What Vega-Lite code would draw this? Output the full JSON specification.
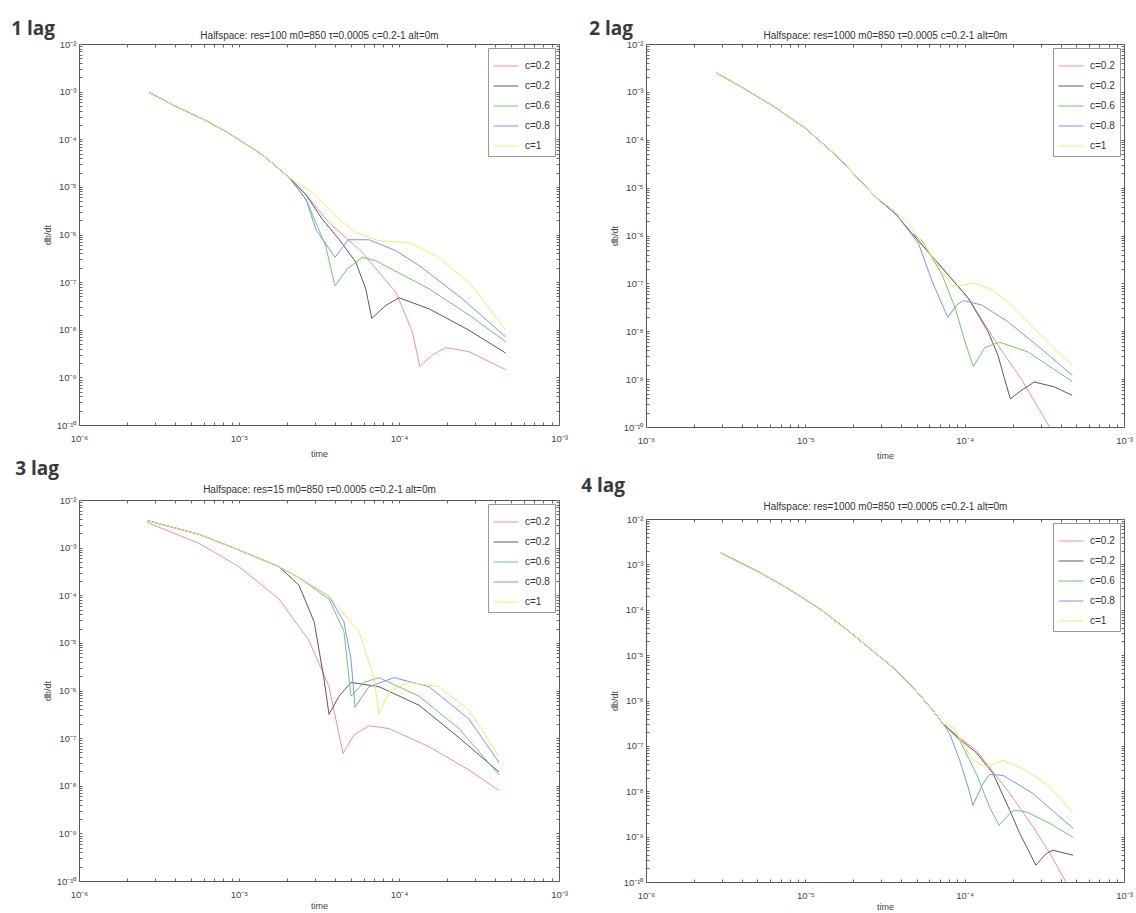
{
"$schema": "https://vega.github.io/schema/vega-lite/v6.json",
"padding": {"left": 10, "top": 19, "right": 2, "bottom": 2},
"config": {
  "font": "Liberation Sans",
  "view": {"stroke": "#555", "strokeWidth": 1},
  "axis": {"grid": false, "domain": false, "tickColor": "#666", "tickSize": -3, "labelFontSize": 9.5, "labelColor": "#444", "titleFontSize": 9, "titleFontWeight": "normal", "titleColor": "#444", "labelPadding": 6, "labelOverlap": false, "labelFlush": false, "titlePadding": 4},
  "axisBottom": {"labelPadding": 11, "titlePadding": 7},
  "title": {"font": "Open Sans", "fontSize": 19, "fontWeight": "bold", "color": "#3a3a3a", "anchor": "start"},
  "legend": {"orient": "top-right", "offset": 4, "symbolType": "stroke", "symbolSize": 625, "symbolStrokeWidth": 1, "labelFontSize": 10, "labelColor": "#333", "strokeColor": "#999", "fillColor": "white", "padding": 5, "rowPadding": 2, "labelOffset": 6, "labelFont": "Liberation Sans"}
},
"datasets": {
"p1": [
{"s":"1","t":2.754e-6,"v":9.55e-4},{"s":"1","t":3.981e-6,"v":5.01e-4},{"s":"1","t":6.31e-6,"v":2.4e-4},{"s":"1","t":8.66e-6,"v":1.334e-4},{"s":"1","t":1.393e-5,"v":4.79e-5},{"s":"1","t":2.054e-5,"v":1.585e-5},
{"s":"1","t":2.63e-5,"v":6.761e-6},{"s":"1","t":3.652e-5,"v":1.778e-6},{"s":"1","t":5.888e-5,"v":4.217e-7},{"s":"1","t":9.55e-5,"v":6.166e-8},{"s":"1","t":1.211e-4,"v":9.12e-9},{"s":"1","t":1.349e-4,"v":1.698e-9},{"s":"1","t":1.622e-4,"v":2.951e-9},{"s":"1","t":1.95e-4,"v":4.217e-9},{"s":"1","t":2.738e-4,"v":3.467e-9},{"s":"1","t":4.645e-4,"v":1.445e-9},
{"s":"2","t":2.754e-6,"v":9.55e-4},{"s":"2","t":3.981e-6,"v":5.01e-4},{"s":"2","t":6.31e-6,"v":2.4e-4},{"s":"2","t":8.66e-6,"v":1.334e-4},{"s":"2","t":1.393e-5,"v":4.79e-5},{"s":"2","t":2.054e-5,"v":1.585e-5},
{"s":"2","t":2.63e-5,"v":6.761e-6},{"s":"2","t":3.319e-5,"v":2.089e-6},{"s":"2","t":4.217e-5,"v":7.943e-7},{"s":"2","t":5.37e-5,"v":2.63e-7},{"s":"2","t":6.194e-5,"v":7.244e-8},{"s":"2","t":6.761e-5,"v":1.738e-8},{"s":"2","t":8.26e-5,"v":3.236e-8},{"s":"2","t":1e-4,"v":4.677e-8},{"s":"2","t":1.54e-4,"v":2.754e-8},{"s":"2","t":2.738e-4,"v":9.77e-9},{"s":"2","t":4.645e-4,"v":3.236e-9},
{"s":"3","t":2.754e-6,"v":9.55e-4},{"s":"3","t":3.981e-6,"v":5.01e-4},{"s":"3","t":6.31e-6,"v":2.4e-4},{"s":"3","t":8.66e-6,"v":1.334e-4},{"s":"3","t":1.393e-5,"v":4.79e-5},{"s":"3","t":2.054e-5,"v":1.585e-5},
{"s":"3","t":2.63e-5,"v":5.37e-6},{"s":"3","t":3.483e-5,"v":5.754e-7},{"s":"3","t":3.981e-5,"v":8.318e-8},{"s":"3","t":4.753e-5,"v":1.905e-7},{"s":"3","t":5.888e-5,"v":3.311e-7},{"s":"3","t":7.145e-5,"v":2.818e-7},{"s":"3","t":1.54e-4,"v":7.244e-8},{"s":"3","t":2.738e-4,"v":2.042e-8},{"s":"3","t":4.645e-4,"v":5.623e-9},
{"s":"4","t":2.754e-6,"v":9.55e-4},{"s":"4","t":3.981e-6,"v":5.01e-4},{"s":"4","t":6.31e-6,"v":2.4e-4},{"s":"4","t":8.66e-6,"v":1.334e-4},{"s":"4","t":1.393e-5,"v":4.79e-5},{"s":"4","t":2.054e-5,"v":1.585e-5},
{"s":"4","t":2.63e-5,"v":5.37e-6},{"s":"4","t":3.027e-5,"v":1.271e-6},{"s":"4","t":3.981e-5,"v":3.311e-7},{"s":"4","t":4.819e-5,"v":7.76e-7},{"s":"4","t":6.494e-5,"v":7.76e-7},{"s":"4","t":9.55e-5,"v":4.571e-7},{"s":"4","t":1.334e-4,"v":2.239e-7},{"s":"4","t":2.489e-4,"v":4.467e-8},{"s":"4","t":4.645e-4,"v":7.08e-9},
{"s":"5","t":2.754e-6,"v":9.55e-4},{"s":"5","t":3.981e-6,"v":5.01e-4},{"s":"5","t":6.31e-6,"v":2.4e-4},{"s":"5","t":8.66e-6,"v":1.334e-4},{"s":"5","t":1.393e-5,"v":4.79e-5},{"s":"5","t":2.054e-5,"v":1.585e-5},
{"s":"5","t":2.871e-5,"v":7.5e-6},{"s":"5","t":4.217e-5,"v":2.089e-6},{"s":"5","t":5.37e-5,"v":1.096e-6},{"s":"5","t":7.5e-5,"v":7.41e-7},{"s":"5","t":1.155e-4,"v":6.76e-7},{"s":"5","t":1.698e-4,"v":3.63e-7},{"s":"5","t":2.738e-4,"v":1e-7},{"s":"5","t":4.645e-4,"v":1e-8}
],
"p2": [
{"s":"1","t":2.754e-6,"v":2.512e-3},{"s":"1","t":3.981e-6,"v":1.259e-3},{"s":"1","t":6.31e-6,"v":5.012e-4},{"s":"1","t":1e-5,"v":1.738e-4},{"s":"1","t":1.585e-5,"v":4.467e-5},{"s":"1","t":2.773e-5,"v":6.31e-6},{"s":"1","t":3.69e-5,"v":2.818e-6},
{"s":"1","t":4.467e-5,"v":1.318e-6},{"s":"1","t":7.194e-5,"v":2.138e-7},{"s":"1","t":1.054e-4,"v":4.898e-8},{"s":"1","t":1.618e-4,"v":5.129e-9},{"s":"1","t":2.259e-4,"v":1.023e-9},{"s":"1","t":3.006e-4,"v":2.042e-10},{"s":"1","t":3.467e-4,"v":9.12e-11},{"s":"1","t":3.981e-4,"v":3.467e-11},
{"s":"2","t":2.754e-6,"v":2.512e-3},{"s":"2","t":3.981e-6,"v":1.259e-3},{"s":"2","t":6.31e-6,"v":5.012e-4},{"s":"2","t":1e-5,"v":1.738e-4},{"s":"2","t":1.585e-5,"v":4.467e-5},{"s":"2","t":2.773e-5,"v":6.31e-6},{"s":"2","t":3.69e-5,"v":2.818e-6},
{"s":"2","t":4.467e-5,"v":1.318e-6},{"s":"2","t":7.194e-5,"v":2.138e-7},{"s":"2","t":1.054e-4,"v":4.898e-8},{"s":"2","t":1.403e-4,"v":9.772e-9},{"s":"2","t":1.618e-4,"v":3.162e-9},{"s":"2","t":1.778e-4,"v":1.023e-9},{"s":"2","t":1.936e-4,"v":3.89e-10},{"s":"2","t":2.259e-4,"v":5.754e-10},{"s":"2","t":2.735e-4,"v":8.71e-10},{"s":"2","t":3.639e-4,"v":6.918e-10},{"s":"2","t":4.732e-4,"v":4.571e-10},
{"s":"3","t":2.754e-6,"v":2.512e-3},{"s":"3","t":3.981e-6,"v":1.259e-3},{"s":"3","t":6.31e-6,"v":5.012e-4},{"s":"3","t":1e-5,"v":1.738e-4},{"s":"3","t":1.585e-5,"v":4.467e-5},{"s":"3","t":2.773e-5,"v":6.31e-6},{"s":"3","t":3.69e-5,"v":2.818e-6},
{"s":"3","t":4.467e-5,"v":1.259e-6},{"s":"3","t":5.408e-5,"v":7.762e-7},{"s":"3","t":7.194e-5,"v":1.549e-7},{"s":"3","t":8.71e-5,"v":3.09e-8},{"s":"3","t":1.005e-4,"v":6.026e-9},{"s":"3","t":1.132e-4,"v":1.82e-9},{"s":"3","t":1.337e-4,"v":4.571e-9},{"s":"3","t":1.656e-4,"v":5.888e-9},{"s":"3","t":2.489e-4,"v":3.715e-9},{"s":"3","t":4.732e-4,"v":8.913e-10},
{"s":"4","t":2.754e-6,"v":2.512e-3},{"s":"4","t":3.981e-6,"v":1.259e-3},{"s":"4","t":6.31e-6,"v":5.012e-4},{"s":"4","t":1e-5,"v":1.738e-4},{"s":"4","t":1.585e-5,"v":4.467e-5},{"s":"4","t":2.773e-5,"v":6.31e-6},{"s":"4","t":3.69e-5,"v":2.818e-6},
{"s":"4","t":4.467e-5,"v":1.259e-6},{"s":"4","t":5.152e-5,"v":6.607e-7},{"s":"4","t":6.237e-5,"v":1.122e-7},{"s":"4","t":7.834e-5,"v":1.95e-8},{"s":"4","t":8.913e-5,"v":3.548e-8},{"s":"4","t":9.817e-5,"v":4.365e-8},{"s":"4","t":1.276e-4,"v":3.548e-8},{"s":"4","t":1.866e-4,"v":1.585e-8},{"s":"4","t":3.006e-4,"v":4.365e-9},{"s":"4","t":4.732e-4,"v":1.202e-9},
{"s":"5","t":2.754e-6,"v":2.512e-3},{"s":"5","t":3.981e-6,"v":1.259e-3},{"s":"5","t":6.31e-6,"v":5.012e-4},{"s":"5","t":1e-5,"v":1.738e-4},{"s":"5","t":1.585e-5,"v":4.467e-5},{"s":"5","t":2.773e-5,"v":6.31e-6},
{"s":"5","t":3.69e-5,"v":3.162e-6},{"s":"5","t":4.467e-5,"v":1.738e-6},{"s":"5","t":6.546e-5,"v":2.951e-7},{"s":"5","t":8.318e-5,"v":8.71e-8},{"s":"5","t":9.572e-5,"v":9.12e-8},{"s":"5","t":1.159e-4,"v":1.023e-7},{"s":"5","t":1.472e-4,"v":7.413e-8},{"s":"5","t":1.959e-4,"v":3.548e-8},{"s":"5","t":3.631e-4,"v":4.365e-9},{"s":"5","t":4.732e-4,"v":1.95e-9}
],
"p3": [
{"s":"1","t":2.661e-6,"v":3.388e-3},{"s":"1","t":5.623e-6,"v":1.23e-3},{"s":"1","t":1e-5,"v":3.981e-4},{"s":"1","t":1.778e-5,"v":8.318e-5},{"s":"1","t":2.738e-5,"v":1.122e-5},{"s":"1","t":3.652e-5,"v":1.202e-6},{"s":"1","t":4.467e-5,"v":4.786e-8},{"s":"1","t":5.248e-5,"v":1.175e-7},{"s":"1","t":6.494e-5,"v":1.82e-7},{"s":"1","t":8.66e-5,"v":1.585e-7},{"s":"1","t":1.54e-4,"v":6.607e-8},{"s":"1","t":2.738e-4,"v":2.138e-8},{"s":"1","t":4.217e-4,"v":7.943e-9},
{"s":"2","t":2.661e-6,"v":3.715e-3},{"s":"2","t":5.623e-6,"v":1.905e-3},{"s":"2","t":1e-5,"v":8.913e-4},{"s":"2","t":1.778e-5,"v":3.981e-4},{"s":"2","t":2.371e-5,"v":1.622e-4},{"s":"2","t":2.951e-5,"v":2.754e-5},{"s":"2","t":3.388e-5,"v":1.862e-6},{"s":"2","t":3.652e-5,"v":3.162e-7},{"s":"2","t":4.217e-5,"v":7.586e-7},{"s":"2","t":5.012e-5,"v":1.479e-6},{"s":"2","t":7.499e-5,"v":1.202e-6},{"s":"2","t":1.334e-4,"v":4.898e-7},{"s":"2","t":2.371e-4,"v":1.023e-7},{"s":"2","t":4.217e-4,"v":1.95e-8},
{"s":"3","t":2.661e-6,"v":3.715e-3},{"s":"3","t":5.623e-6,"v":1.905e-3},{"s":"3","t":1e-5,"v":8.913e-4},{"s":"3","t":1.778e-5,"v":3.981e-4},{"s":"3","t":2.371e-5,"v":2.344e-4},{"s":"3","t":3.652e-5,"v":8.318e-5},{"s":"3","t":4.529e-5,"v":1.738e-5},{"s":"3","t":5.012e-5,"v":7.586e-7},{"s":"3","t":6.026e-5,"v":1.479e-6},{"s":"3","t":7.499e-5,"v":1.862e-6},{"s":"3","t":1.334e-4,"v":7.586e-7},{"s":"3","t":2.371e-4,"v":1.585e-7},{"s":"3","t":4.217e-4,"v":1.698e-8},
{"s":"4","t":2.661e-6,"v":3.715e-3},{"s":"4","t":5.623e-6,"v":1.905e-3},{"s":"4","t":1e-5,"v":8.913e-4},{"s":"4","t":1.778e-5,"v":3.981e-4},{"s":"4","t":2.371e-5,"v":2.344e-4},{"s":"4","t":3.652e-5,"v":9.55e-5},{"s":"4","t":4.529e-5,"v":2.754e-5},{"s":"4","t":5.012e-5,"v":4.571e-6},{"s":"4","t":5.309e-5,"v":4.467e-7},{"s":"4","t":6.494e-5,"v":1.202e-6},{"s":"4","t":9.333e-5,"v":1.862e-6},{"s":"4","t":1.54e-4,"v":1.202e-6},{"s":"4","t":2.738e-4,"v":2.512e-7},{"s":"4","t":4.217e-4,"v":3.09e-8},
{"s":"5","t":2.661e-6,"v":3.715e-3},{"s":"5","t":5.623e-6,"v":1.905e-3},{"s":"5","t":1e-5,"v":8.913e-4},{"s":"5","t":1.778e-5,"v":3.981e-4},{"s":"5","t":2.371e-5,"v":2.344e-4},{"s":"5","t":3.652e-5,"v":9.55e-5},{"s":"5","t":5.623e-5,"v":1.738e-5},{"s":"5","t":6.982e-5,"v":1.862e-6},{"s":"5","t":7.499e-5,"v":3.162e-7},{"s":"5","t":8.66e-5,"v":9.55e-7},{"s":"5","t":1.155e-4,"v":1.479e-6},{"s":"5","t":1.778e-4,"v":1.202e-6},{"s":"5","t":2.738e-4,"v":3.89e-7},{"s":"5","t":4.217e-4,"v":4.169e-8}
],
"p4": [
{"s":"1","t":2.951e-6,"v":1.778e-3},{"s":"1","t":5.012e-6,"v":7.079e-4},{"s":"1","t":7.943e-6,"v":2.818e-4},{"s":"1","t":1.259e-5,"v":1e-4},{"s":"1","t":1.995e-5,"v":2.818e-5},{"s":"1","t":3.54e-5,"v":5.37e-6},{"s":"1","t":4.732e-5,"v":1.95e-6},{"s":"1","t":6.324e-5,"v":6.026e-7},{"s":"1","t":7.311e-5,"v":3.09e-7},
{"s":"1","t":9.311e-5,"v":1.514e-7},{"s":"1","t":1.183e-4,"v":7.943e-8},{"s":"1","t":1.919e-4,"v":8.913e-9},{"s":"1","t":2.685e-4,"v":1.66e-9},{"s":"1","t":3.428e-4,"v":4.266e-10},{"s":"1","t":4.256e-4,"v":1.096e-10},{"s":"1","t":4.677e-4,"v":5.129e-11},
{"s":"2","t":2.951e-6,"v":1.778e-3},{"s":"2","t":5.012e-6,"v":7.079e-4},{"s":"2","t":7.943e-6,"v":2.818e-4},{"s":"2","t":1.259e-5,"v":1e-4},{"s":"2","t":1.995e-5,"v":2.818e-5},{"s":"2","t":3.54e-5,"v":5.37e-6},{"s":"2","t":4.732e-5,"v":1.95e-6},{"s":"2","t":6.324e-5,"v":6.026e-7},{"s":"2","t":7.311e-5,"v":3.09e-7},
{"s":"2","t":9.311e-5,"v":1.413e-7},{"s":"2","t":1.183e-4,"v":7.079e-8},{"s":"2","t":1.507e-4,"v":2.455e-8},{"s":"2","t":1.919e-4,"v":3.802e-9},{"s":"2","t":2.218e-4,"v":1.175e-9},{"s":"2","t":2.799e-4,"v":2.344e-10},{"s":"2","t":3.258e-4,"v":4.266e-10},{"s":"2","t":3.589e-4,"v":5.012e-10},{"s":"2","t":4.797e-4,"v":3.89e-10},
{"s":"3","t":2.951e-6,"v":1.778e-3},{"s":"3","t":5.012e-6,"v":7.079e-4},{"s":"3","t":7.943e-6,"v":2.818e-4},{"s":"3","t":1.259e-5,"v":1e-4},{"s":"3","t":1.995e-5,"v":2.818e-5},{"s":"3","t":3.54e-5,"v":5.37e-6},{"s":"3","t":4.732e-5,"v":1.95e-6},{"s":"3","t":6.324e-5,"v":6.026e-7},{"s":"3","t":7.311e-5,"v":3.09e-7},
{"s":"3","t":9.311e-5,"v":1.318e-7},{"s":"3","t":1.183e-4,"v":2.455e-8},{"s":"3","t":1.435e-4,"v":4.467e-9},{"s":"3","t":1.644e-4,"v":1.778e-9},{"s":"3","t":1.919e-4,"v":3.236e-9},{"s":"3","t":2.061e-4,"v":3.802e-9},{"s":"3","t":2.438e-4,"v":3.508e-9},{"s":"3","t":3.428e-4,"v":1.95e-9},{"s":"3","t":4.797e-4,"v":9.55e-10},
{"s":"4","t":2.951e-6,"v":1.778e-3},{"s":"4","t":5.012e-6,"v":7.079e-4},{"s":"4","t":7.943e-6,"v":2.818e-4},{"s":"4","t":1.259e-5,"v":1e-4},{"s":"4","t":1.995e-5,"v":2.818e-5},{"s":"4","t":3.54e-5,"v":5.37e-6},{"s":"4","t":4.732e-5,"v":1.95e-6},{"s":"4","t":6.324e-5,"v":6.026e-7},{"s":"4","t":7.311e-5,"v":3.09e-7},
{"s":"4","t":8.054e-5,"v":1.862e-7},{"s":"4","t":9.311e-5,"v":4.786e-8},{"s":"4","t":1.05e-4,"v":1.245e-8},{"s":"4","t":1.127e-4,"v":4.898e-9},{"s":"4","t":1.303e-4,"v":1.479e-8},{"s":"4","t":1.435e-4,"v":2.344e-8},{"s":"4","t":1.742e-4,"v":2.239e-8},{"s":"4","t":2.685e-4,"v":8.913e-9},{"s":"4","t":4.797e-4,"v":1.514e-9},
{"s":"5","t":2.951e-6,"v":1.778e-3},{"s":"5","t":5.012e-6,"v":7.079e-4},{"s":"5","t":7.943e-6,"v":2.818e-4},{"s":"5","t":1.259e-5,"v":1e-4},{"s":"5","t":1.995e-5,"v":2.818e-5},{"s":"5","t":3.54e-5,"v":5.37e-6},{"s":"5","t":4.732e-5,"v":1.95e-6},{"s":"5","t":6.324e-5,"v":6.026e-7},{"s":"5","t":7.311e-5,"v":3.09e-7},
{"s":"5","t":8.453e-5,"v":2.57e-7},{"s":"5","t":1.127e-4,"v":4.786e-8},{"s":"5","t":1.368e-4,"v":3.388e-8},{"s":"5","t":1.742e-4,"v":4.786e-8},{"s":"5","t":2.438e-4,"v":2.884e-8},{"s":"5","t":3.428e-4,"v":1.245e-8},{"s":"5","t":4.797e-4,"v":3.236e-9}
]
},
"resolve": {"scale": {"color": "independent"}, "legend": {"color": "independent"}},
"spacing": 12,
"hconcat": [
{
"spacing": 0,
"resolve": {"scale": {"color": "independent"}, "legend": {"color": "independent"}},
"vconcat": [
{
"width": 480, "height": 381,
"title": {"text": "1 lag", "dx": -32, "offset": -8},
"data": {"name": "p1"},
"layer": [
{"mark": {"type": "line", "strokeWidth": 1, "clip": true},
 "encoding": {
  "x": {"field": "t", "type": "quantitative", "scale": {"type": "log", "domain": [1e-6, 1e-3], "nice": false}, "axis": {"orient": "bottom", "title": "time", "tickCount": 10, "labelExpr": "abs(log(datum.value)/LN10 - round(log(datum.value)/LN10)) > 0.01 ? '' : '10' + ['⁻¹⁰','⁻⁹','⁻⁸','⁻⁷','⁻⁶','⁻⁵','⁻⁴','⁻³','⁻²','⁻¹','⁰'][round(log(datum.value)/LN10)+10]"}},
  "y": {"field": "v", "type": "quantitative", "scale": {"type": "log", "domain": [1e-10, 1e-2], "nice": false}, "axis": {"orient": "left", "title": "db/dt", "tickCount": 20, "labelExpr": "abs(log(datum.value)/LN10 - round(log(datum.value)/LN10)) > 0.01 ? '' : '10' + ['⁻¹⁰','⁻⁹','⁻⁸','⁻⁷','⁻⁶','⁻⁵','⁻⁴','⁻³','⁻²','⁻¹','⁰'][round(log(datum.value)/LN10)+10]"}},
  "color": {"field": "s", "type": "nominal", "scale": {"domain": ["1","2","3","4","5"], "range": ["#f0909a","#5a5a5a","#6cc86c","#7896f0","#eeea70"]}, "legend": {"title": null, "labelExpr": "['c=0.2','c=0.2','c=0.6','c=0.8','c=1'][toNumber(datum.label)-1]"}}
 }},
{"mark": {"type": "point", "opacity": 0},
 "encoding": {
  "x": {"field": "t", "type": "quantitative", "scale": {"type": "log", "domain": [1e-6, 1e-3], "nice": false}, "axis": {"orient": "top", "labels": false, "tickCount": 10, "title": "Halfspace: res=100 m0=850 τ=0.0005 c=0.2-1 alt=0m", "titleFontSize": 10, "titleColor": "#333", "titlePadding": 3}},
  "y": {"field": "v", "type": "quantitative", "scale": {"type": "log", "domain": [1e-10, 1e-2], "nice": false}, "axis": {"orient": "right", "labels": false, "tickCount": 20, "title": null}}
 }}
],
"resolve": {"axis": {"x": "independent", "y": "independent"}}
},
{
"width": 480, "height": 381,
"title": {"text": "3 lag", "dx": -28, "offset": 6},
"data": {"name": "p3"},
"layer": [
{"mark": {"type": "line", "strokeWidth": 1, "clip": true},
 "encoding": {
  "x": {"field": "t", "type": "quantitative", "scale": {"type": "log", "domain": [1e-6, 1e-3], "nice": false}, "axis": {"orient": "bottom", "title": "time", "titlePadding": 3, "tickCount": 10, "labelExpr": "abs(log(datum.value)/LN10 - round(log(datum.value)/LN10)) > 0.01 ? '' : '10' + ['⁻¹⁰','⁻⁹','⁻⁸','⁻⁷','⁻⁶','⁻⁵','⁻⁴','⁻³','⁻²','⁻¹','⁰'][round(log(datum.value)/LN10)+10]"}},
  "y": {"field": "v", "type": "quantitative", "scale": {"type": "log", "domain": [1e-10, 1e-2], "nice": false}, "axis": {"orient": "left", "title": "db/dt", "tickCount": 20, "labelExpr": "abs(log(datum.value)/LN10 - round(log(datum.value)/LN10)) > 0.01 ? '' : '10' + ['⁻¹⁰','⁻⁹','⁻⁸','⁻⁷','⁻⁶','⁻⁵','⁻⁴','⁻³','⁻²','⁻¹','⁰'][round(log(datum.value)/LN10)+10]"}},
  "color": {"field": "s", "type": "nominal", "scale": {"domain": ["1","2","3","4","5"], "range": ["#f0909a","#5a5a5a","#6cc86c","#7896f0","#eeea70"]}, "legend": {"title": null, "labelExpr": "['c=0.2','c=0.2','c=0.6','c=0.8','c=1'][toNumber(datum.label)-1]"}}
 }},
{"mark": {"type": "point", "opacity": 0},
 "encoding": {
  "x": {"field": "t", "type": "quantitative", "scale": {"type": "log", "domain": [1e-6, 1e-3], "nice": false}, "axis": {"orient": "top", "labels": false, "tickCount": 10, "title": "Halfspace: res=15 m0=850 τ=0.0005 c=0.2-1 alt=0m", "titleFontSize": 10, "titleColor": "#333", "titlePadding": 5}},
  "y": {"field": "v", "type": "quantitative", "scale": {"type": "log", "domain": [1e-10, 1e-2], "nice": false}, "axis": {"orient": "right", "labels": false, "tickCount": 20, "title": null}}
 }}
],
"resolve": {"axis": {"x": "independent", "y": "independent"}}
}
]
},
{
"spacing": 15,
"resolve": {"scale": {"color": "independent"}, "legend": {"color": "independent"}},
"vconcat": [
{
"width": 478, "height": 383,
"title": {"text": "2 lag", "dx": -21, "offset": -8},
"data": {"name": "p2"},
"layer": [
{"mark": {"type": "line", "strokeWidth": 1, "clip": true},
 "encoding": {
  "x": {"field": "t", "type": "quantitative", "scale": {"type": "log", "domain": [1e-6, 1e-3], "nice": false}, "axis": {"orient": "bottom", "title": "time", "tickCount": 10, "labelExpr": "abs(log(datum.value)/LN10 - round(log(datum.value)/LN10)) > 0.01 ? '' : '10' + ['⁻¹⁰','⁻⁹','⁻⁸','⁻⁷','⁻⁶','⁻⁵','⁻⁴','⁻³','⁻²','⁻¹','⁰'][round(log(datum.value)/LN10)+10]"}},
  "y": {"field": "v", "type": "quantitative", "scale": {"type": "log", "domain": [1e-10, 1e-2], "nice": false}, "axis": {"orient": "left", "title": "db/dt", "tickCount": 20, "labelExpr": "abs(log(datum.value)/LN10 - round(log(datum.value)/LN10)) > 0.01 ? '' : '10' + ['⁻¹⁰','⁻⁹','⁻⁸','⁻⁷','⁻⁶','⁻⁵','⁻⁴','⁻³','⁻²','⁻¹','⁰'][round(log(datum.value)/LN10)+10]"}},
  "color": {"field": "s", "type": "nominal", "scale": {"domain": ["1","2","3","4","5"], "range": ["#f0909a","#5a5a5a","#6cc86c","#7896f0","#eeea70"]}, "legend": {"title": null, "labelExpr": "['c=0.2','c=0.2','c=0.6','c=0.8','c=1'][toNumber(datum.label)-1]"}}
 }},
{"mark": {"type": "point", "opacity": 0},
 "encoding": {
  "x": {"field": "t", "type": "quantitative", "scale": {"type": "log", "domain": [1e-6, 1e-3], "nice": false}, "axis": {"orient": "top", "labels": false, "tickCount": 10, "title": "Halfspace: res=1000 m0=850 τ=0.0005 c=0.2-1 alt=0m", "titleFontSize": 10, "titleColor": "#333", "titlePadding": 3}},
  "y": {"field": "v", "type": "quantitative", "scale": {"type": "log", "domain": [1e-10, 1e-2], "nice": false}, "axis": {"orient": "right", "labels": false, "tickCount": 20, "title": null}}
 }}
],
"resolve": {"axis": {"x": "independent", "y": "independent"}}
},
{
"width": 478, "height": 363,
"title": {"text": "4 lag", "dx": -29, "offset": 6},
"data": {"name": "p4"},
"layer": [
{"mark": {"type": "line", "strokeWidth": 1, "clip": true},
 "encoding": {
  "x": {"field": "t", "type": "quantitative", "scale": {"type": "log", "domain": [1e-6, 1e-3], "nice": false}, "axis": {"orient": "bottom", "title": "time", "titlePadding": 3, "tickCount": 10, "labelExpr": "abs(log(datum.value)/LN10 - round(log(datum.value)/LN10)) > 0.01 ? '' : '10' + ['⁻¹⁰','⁻⁹','⁻⁸','⁻⁷','⁻⁶','⁻⁵','⁻⁴','⁻³','⁻²','⁻¹','⁰'][round(log(datum.value)/LN10)+10]"}},
  "y": {"field": "v", "type": "quantitative", "scale": {"type": "log", "domain": [1e-10, 1e-2], "nice": false}, "axis": {"orient": "left", "title": "db/dt", "tickCount": 20, "labelExpr": "abs(log(datum.value)/LN10 - round(log(datum.value)/LN10)) > 0.01 ? '' : '10' + ['⁻¹⁰','⁻⁹','⁻⁸','⁻⁷','⁻⁶','⁻⁵','⁻⁴','⁻³','⁻²','⁻¹','⁰'][round(log(datum.value)/LN10)+10]"}},
  "color": {"field": "s", "type": "nominal", "scale": {"domain": ["1","2","3","4","5"], "range": ["#f0909a","#5a5a5a","#6cc86c","#7896f0","#eeea70"]}, "legend": {"title": null, "labelExpr": "['c=0.2','c=0.2','c=0.6','c=0.8','c=1'][toNumber(datum.label)-1]"}}
 }},
{"mark": {"type": "point", "opacity": 0},
 "encoding": {
  "x": {"field": "t", "type": "quantitative", "scale": {"type": "log", "domain": [1e-6, 1e-3], "nice": false}, "axis": {"orient": "top", "labels": false, "tickCount": 10, "title": "Halfspace: res=1000 m0=850 τ=0.0005 c=0.2-1 alt=0m", "titleFontSize": 10, "titleColor": "#333", "titlePadding": 7}},
  "y": {"field": "v", "type": "quantitative", "scale": {"type": "log", "domain": [1e-10, 1e-2], "nice": false}, "axis": {"orient": "right", "labels": false, "tickCount": 20, "title": null}}
 }}
],
"resolve": {"axis": {"x": "independent", "y": "independent"}}
}
]
}
]
}
